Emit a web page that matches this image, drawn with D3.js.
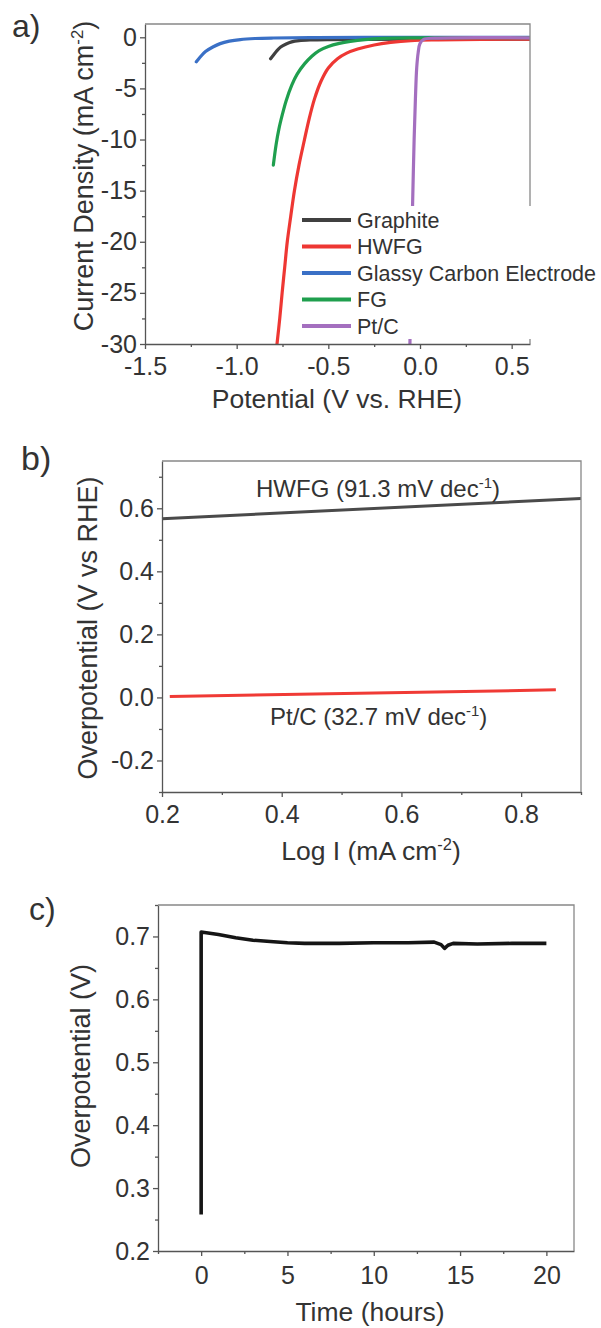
<!DOCTYPE html>
<html>
<head>
<meta charset="utf-8">
<script src="https://cdn.jsdelivr.net/npm/d3@7"></script>
<style>
  body { margin: 0; background: #fff; }
  svg text { font-family: "Liberation Sans", Arial, sans-serif; fill: #333; }
</style>
</head>
<body>
<script>

// ---- panel a: polarisation curves [potential V vs RHE, current density mA cm-2]
var graphite = [[-0.815,-2.1],[-0.80,-1.75],[-0.78,-1.3],[-0.76,-0.95],[-0.73,-0.65],[-0.70,-0.45],[-0.66,-0.33],[-0.60,-0.26],[-0.50,-0.22],[-0.30,-0.2],[0.0,-0.19],[0.6,-0.17]];
var hwfg = [[-0.78,-30],[-0.765,-27.5],[-0.752,-25],[-0.738,-22.5],[-0.724,-20],[-0.705,-17.5],[-0.685,-15],[-0.66,-12.5],[-0.63,-10],[-0.605,-8],[-0.575,-6],[-0.54,-4.3],[-0.50,-3.0],[-0.45,-2.1],[-0.40,-1.55],[-0.34,-1.15],[-0.25,-0.75],[-0.16,-0.5],[-0.05,-0.32],[0.1,-0.25],[0.6,-0.18]];
var glassy = [[-1.22,-2.4],[-1.20,-1.95],[-1.17,-1.4],[-1.13,-0.95],[-1.09,-0.62],[-1.04,-0.38],[-0.98,-0.22],[-0.90,-0.12],[-0.80,-0.07],[-0.60,-0.03],[-0.30,-0.01],[0.6,0.0]];
var fg = [[-0.80,-12.5],[-0.785,-10.5],[-0.77,-9],[-0.75,-7.5],[-0.73,-6.2],[-0.70,-4.7],[-0.67,-3.6],[-0.63,-2.6],[-0.59,-1.85],[-0.55,-1.3],[-0.50,-0.9],[-0.44,-0.6],[-0.38,-0.4],[-0.30,-0.22],[-0.20,-0.1],[0.0,-0.05],[0.6,-0.03]];
var ptc = [[-0.055,-30],[-0.05,-25],[-0.045,-20],[-0.04,-16],[-0.032,-10],[-0.025,-6],[-0.018,-3],[-0.01,-1.5],[0.0,-0.6],[0.02,-0.2],[0.08,-0.08],[0.6,-0.05]];
var seriesNames = ["Graphite", "HWFG", "Glassy Carbon Electrode", "FG", "Pt/C"];
var seriesColors = ["#404040", "#ee3733", "#3a70c6", "#1f9f4e", "#a46fbf"];

// ---- panel b: Tafel lines [log I, overpotential]
var hwfgTafel = [[0.2,0.567],[0.9,0.631]];
var ptcTafel = [[0.213,0.003],[0.858,0.024]];

// ---- panel c: stability test
var timeHours = [0,0,0.3,1,2,3,4,5,6,8,10,12,13.5,13.9,14.1,14.3,14.6,16,18,20];
var overpot = [0.258,0.707,0.706,0.703,0.698,0.694,0.692,0.690,0.689,0.689,0.690,0.690,0.691,0.687,0.681,0.686,0.689,0.688,0.689,0.689];

var svg = d3.select("body").append("svg")
    .attr("width", 601)
    .attr("height", 1328);

svg.append("rect").attr("width", 601).attr("height", 1328).attr("fill", "#fff");

// draws frame, major + minor ticks for one panel
function drawAxes(x, y, o){
  var x0 = x.range()[0], x1 = x.range()[1], yb = y.range()[0], yt = y.range()[1];
  var g = svg.append("g");

  g.append("g").attr("transform", "translate(0," + yb + ")")
    .call(d3.axisBottom(x).tickValues(o.xMinor).tickFormat("").tickSize(3).tickSizeOuter(0))
    .call(function(s){ s.select(".domain").remove(); });
  g.append("g").attr("transform", "translate(" + x0 + ",0)")
    .call(d3.axisLeft(y).tickValues(o.yMinor).tickFormat("").tickSize(3).tickSizeOuter(0))
    .call(function(s){ s.select(".domain").remove(); });

  g.append("g").attr("transform", "translate(0," + yb + ")")
    .call(d3.axisBottom(x).tickValues(o.xTicks).tickFormat(o.xFmt).tickSize(5).tickSizeOuter(0).tickPadding(o.xPad));
  g.append("g").attr("transform", "translate(" + x0 + ",0)")
    .call(d3.axisLeft(y).tickValues(o.yTicks).tickFormat(o.yFmt).tickSize(5).tickSizeOuter(0).tickPadding(3));

  g.selectAll(".tick line").attr("stroke", "#555").attr("stroke-width", 1.3);
  g.selectAll(".domain").attr("stroke", "#555").attr("stroke-width", 1.3);
  g.selectAll(".tick text").attr("font-size", 25).attr("fill", "#333")
    .attr("font-family", "Liberation Sans, Arial, sans-serif");

  // top / right frame
  g.append("path")
    .attr("d", "M" + x0 + "," + yt + "H" + x1 + "V" + yb)
    .attr("fill", "none").attr("stroke", "#888").attr("stroke-width", 1.3);
  return g;
}

function superText(sel, parts){
  // parts: [main, sup, tail]
  sel.append("tspan").text(parts[0]);
  sel.append("tspan").attr("font-size", "0.62em").attr("dy", "-0.62em").text(parts[1]);
  sel.append("tspan").attr("dy", "0.38em").text(parts[2]);
}

var fmt1 = function(d){ return d.toFixed(1); };

/* ================= panel a ================= */
var xa = d3.scaleLinear().domain([-1.5, 0.6]).range([145, 530]);
var ya = d3.scaleLinear().domain([-30, 1.3]).range([344, 24]);

svg.append("clipPath").attr("id", "clipA")
  .append("rect").attr("x", 145).attr("y", 24).attr("width", 385).attr("height", 320);

var lineA = d3.line()
    .x(function(d){ return xa(d[0]); })
    .y(function(d){ return ya(d[1]); })
    .curve(d3.curveCatmullRom.alpha(0.5));

var curvesA = svg.append("g").attr("clip-path", "url(#clipA)");
[graphite, hwfg, glassy, fg, ptc].forEach(function(s, i){
  curvesA.append("path")
    .datum(s)
    .attr("d", lineA)
    .attr("fill", "none")
    .attr("stroke", seriesColors[i])
    .attr("stroke-width", 3.2)
    .attr("stroke-linecap", "round");
});

drawAxes(xa, ya, {
  xTicks: [-1.5, -1.0, -0.5, 0.0, 0.5], xMinor: [-1.25, -0.75, -0.25, 0.25], xFmt: fmt1, xPad: 8,
  yTicks: [0, -5, -10, -15, -20, -25, -30], yMinor: [-2.5, -7.5, -12.5, -17.5, -22.5, -27.5],
  yFmt: function(d){ return String(d); }
});

// legend with white background
var legend = svg.append("g");
legend.append("rect").attr("x", 298).attr("y", 206).attr("width", 303).attr("height", 133).attr("fill", "#fff");
seriesNames.forEach(function(n, i){
  var yy = 220 + i * 26.5;
  legend.append("line").attr("x1", 302).attr("x2", 351).attr("y1", yy).attr("y2", yy)
    .attr("stroke", seriesColors[i]).attr("stroke-width", 4);
  legend.append("text").attr("x", 357).attr("y", yy).attr("dy", "0.35em")
    .attr("font-size", 21.5).text(n);
});

superText(svg.append("text").attr("transform", "translate(93,176) rotate(-90)")
  .attr("text-anchor", "middle").attr("font-size", 27), ["Current Density (mA cm", "-2", ")"]);
svg.append("text").attr("x", 337).attr("y", 408).attr("text-anchor", "middle")
  .attr("font-size", 26.5).text("Potential (V vs. RHE)");
svg.append("text").attr("x", 12).attr("y", 37).attr("font-size", 32).text("a)");

/* ================= panel b ================= */
var xb = d3.scaleLinear().domain([0.2, 0.9]).range([162, 581]);
var yb = d3.scaleLinear().domain([-0.3, 0.75]).range([792, 461]);

var lineB = d3.line()
    .x(function(d){ return xb(d[0]); })
    .y(function(d){ return yb(d[1]); });

svg.append("path").datum(hwfgTafel).attr("d", lineB)
  .attr("fill", "none").attr("stroke", "#4a4a4a").attr("stroke-width", 3);
svg.append("path").datum(ptcTafel).attr("d", lineB)
  .attr("fill", "none").attr("stroke", "#f03a35").attr("stroke-width", 3);

drawAxes(xb, yb, {
  xTicks: [0.2, 0.4, 0.6, 0.8], xMinor: [0.3, 0.5, 0.7, 0.9], xFmt: fmt1, xPad: 8,
  yTicks: [-0.2, 0.0, 0.2, 0.4, 0.6], yMinor: [-0.3, -0.1, 0.1, 0.3, 0.5, 0.7], yFmt: fmt1
});

superText(svg.append("text").attr("x", 256).attr("y", 497).attr("font-size", 24),
  ["HWFG (91.3 mV dec", "-1", ")"]);
superText(svg.append("text").attr("x", 270).attr("y", 725).attr("font-size", 24),
  ["Pt/C (32.7 mV dec", "-1", ")"]);

svg.append("text").attr("transform", "translate(97,628) rotate(-90)")
  .attr("text-anchor", "middle").attr("font-size", 27).text("Overpotential (V vs RHE)");
superText(svg.append("text").attr("x", 371).attr("y", 860).attr("text-anchor", "middle")
  .attr("font-size", 26.5), ["Log I (mA cm", "-2", ")"]);
svg.append("text").attr("x", 21).attr("y", 470).attr("font-size", 34).text("b)");

/* ================= panel c ================= */
var xc = d3.scaleLinear().domain([-2.5, 21.6]).range([158, 574]);
var yc = d3.scaleLinear().domain([0.2, 0.75]).range([1251, 905]);

var lineC = d3.line()
    .x(function(d, i){ return xc(timeHours[i]); })
    .y(function(d){ return yc(d); });

svg.append("path").datum(overpot).attr("d", lineC)
  .attr("fill", "none").attr("stroke", "#151515").attr("stroke-width", 3.6)
  .attr("stroke-linejoin", "round");

drawAxes(xc, yc, {
  xTicks: [0, 5, 10, 15, 20], xMinor: [-2.5, 2.5, 7.5, 12.5, 17.5], xFmt: function(d){ return String(d); }, xPad: 10,
  yTicks: [0.2, 0.3, 0.4, 0.5, 0.6, 0.7], yMinor: [0.25, 0.35, 0.45, 0.55, 0.65, 0.75], yFmt: fmt1
});

svg.append("text").attr("transform", "translate(90,1066) rotate(-90)")
  .attr("text-anchor", "middle").attr("font-size", 27).text("Overpotential (V)");
svg.append("text").attr("x", 370).attr("y", 1321).attr("text-anchor", "middle")
  .attr("font-size", 26.5).text("Time (hours)");
svg.append("text").attr("x", 29).attr("y", 920).attr("font-size", 32).text("c)");

</script>
</body>
</html>
